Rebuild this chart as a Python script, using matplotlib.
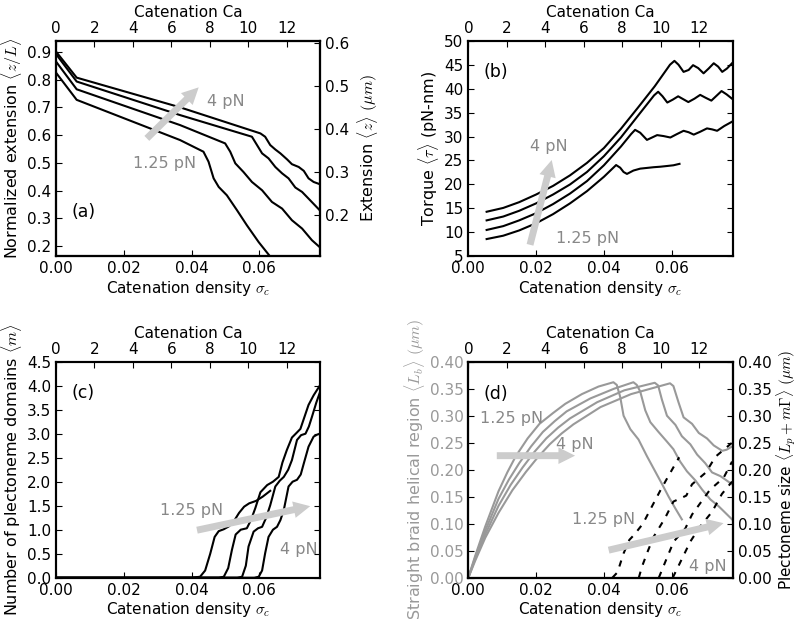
import numpy as np
import matplotlib
matplotlib.use('Agg')
import matplotlib.pyplot as plt
from matplotlib.ticker import FormatStrFormatter

# ---- data ----
# (a) normalized extension vs catenation density, 4 pN (top) ... 1.25 pN (bottom)
a_sig_4 = [0, 0.0061, 0.0366, 0.0603, 0.0617, 0.0632, 0.0647, 0.0662, 0.0682, 0.0696,
           0.0716, 0.0731, 0.0745, 0.076, 0.0778]
a_ext_4 = [0.901, 0.807, 0.700, 0.606, 0.594, 0.564, 0.548, 0.534, 0.512, 0.495,
           0.485, 0.471, 0.444, 0.431, 0.423]
a_sig_3 = [0, 0.0061, 0.0366, 0.0578, 0.0593, 0.0608, 0.0627, 0.0647, 0.0667, 0.0686,
           0.0706, 0.0726, 0.0745, 0.0778]
a_ext_3 = [0.892, 0.793, 0.672, 0.594, 0.564, 0.534, 0.516, 0.485, 0.462, 0.444,
           0.411, 0.395, 0.371, 0.329]
a_sig_2 = [0, 0.0061, 0.0366, 0.0499, 0.0514, 0.0529, 0.0553, 0.0578, 0.0608, 0.0637,
           0.0667, 0.0696, 0.0726, 0.0755, 0.0778]
a_ext_2 = [0.865, 0.765, 0.636, 0.570, 0.540, 0.498, 0.467, 0.431, 0.401, 0.359,
           0.335, 0.293, 0.263, 0.221, 0.196]
a_sig_1 = [0, 0.0061, 0.0366, 0.0435, 0.045, 0.0465, 0.048, 0.0504, 0.0534, 0.0563,
           0.0598, 0.063]
a_ext_1 = [0.825, 0.727, 0.582, 0.540, 0.504, 0.444, 0.413, 0.383, 0.329, 0.275,
           0.214, 0.165]

# (b) torque
b_sig_4 = [0.0054, 0.0103, 0.015, 0.02, 0.025, 0.03, 0.035, 0.04, 0.045, 0.05, 0.055,
           0.0595, 0.0608, 0.062, 0.0635, 0.065, 0.0663, 0.0678, 0.0694, 0.0709, 0.0724,
           0.0737, 0.0749, 0.0763, 0.0778]
b_tau_4 = [14.3, 15.1, 16.3, 17.9, 19.7, 21.9, 24.5, 27.6, 31.6, 36.0, 40.5,
           45.0, 45.8, 45.0, 43.5, 43.9, 44.9, 44.3, 43.2, 44.2, 45.3,
           44.6, 43.5, 44.2, 45.3]
b_sig_3 = [0.0054, 0.0103, 0.015, 0.02, 0.025, 0.03, 0.035, 0.04, 0.045, 0.05, 0.0548,
           0.056, 0.0573, 0.0587, 0.0603, 0.0619, 0.0634, 0.0649, 0.0667, 0.0684, 0.07,
           0.0717, 0.0732, 0.0747, 0.0762, 0.0778]
b_tau_3 = [12.5, 13.3, 14.5, 16.05, 17.9, 20.0, 22.6, 25.9, 29.8, 34.3, 38.6,
           39.35, 38.4, 37.1, 37.7, 38.4, 37.8, 37.2, 37.9, 38.7, 38.1,
           37.5, 38.5, 39.5, 38.8, 37.9]
b_sig_2 = [0.0054, 0.0103, 0.015, 0.02, 0.025, 0.03, 0.035, 0.04, 0.045, 0.048, 0.0492,
           0.0507, 0.0527, 0.0542, 0.0557, 0.0576, 0.0596, 0.0615, 0.0635, 0.065, 0.0665,
           0.0684, 0.0704, 0.0719, 0.0734, 0.0755, 0.0778]
b_tau_2 = [10.5, 11.3, 12.5, 14.0, 15.9, 18.1, 20.7, 24.0, 27.9, 30.5, 31.4,
           30.8, 29.3, 29.8, 30.3, 30.1, 29.8, 30.5, 31.2, 30.9, 30.4,
           31.0, 31.7, 31.5, 31.2, 32.2, 33.1]
b_sig_1 = [0.0054, 0.0103, 0.015, 0.02, 0.025, 0.03, 0.035, 0.04, 0.0425, 0.0436, 0.0448,
           0.0458, 0.0468, 0.0487, 0.0507, 0.0527, 0.0547, 0.0566, 0.0586, 0.0605, 0.0623]
b_tau_1 = [8.6, 9.3, 10.4, 11.9, 13.8, 16.05, 18.6, 21.6, 23.3, 24.05, 23.5,
           22.6, 22.2, 22.9, 23.3, 23.45, 23.6, 23.7, 23.85, 24.0, 24.3]

# (c) number of plectoneme domains
c_sig_1 = [0, 0.040, 0.0425, 0.044, 0.0455, 0.0468, 0.048, 0.0495, 0.051, 0.0525, 0.054,
           0.0555, 0.057, 0.059, 0.061, 0.0632]
c_m_1 = [0, 0, 0.02, 0.15, 0.50, 0.85, 0.97, 1.01, 1.07, 1.18, 1.35,
         1.48, 1.55, 1.60, 1.69, 1.81]
c_sig_2 = [0, 0.048, 0.0495, 0.0508, 0.0519, 0.053, 0.0545, 0.0563, 0.0575, 0.0588, 0.0603,
           0.0623, 0.064, 0.0657, 0.0668, 0.0681, 0.0696, 0.071, 0.0721, 0.0733, 0.0745,
           0.076, 0.0778]
c_m_2 = [0, 0, 0.02, 0.2, 0.58, 0.9, 1.0, 1.03, 1.2, 1.45, 1.78,
         1.93, 2.0, 2.1, 2.4, 2.66, 2.92, 3.02, 3.1, 3.35, 3.6,
         3.8, 4.0]
c_sig_3 = [0, 0.0535, 0.0549, 0.056, 0.0568, 0.0583, 0.0596, 0.0608, 0.062, 0.0632, 0.0647,
           0.066, 0.0672, 0.0685, 0.0696, 0.0711, 0.0723, 0.0736, 0.0746, 0.0755, 0.0768,
           0.0778]
c_m_3 = [0, 0, 0.02, 0.25, 0.65, 0.96, 1.03, 1.06, 1.25, 1.51, 1.9,
         2.02, 2.1, 2.25, 2.45, 2.87, 2.97, 3.0, 3.15, 3.35, 3.65,
         3.85]
c_sig_4 = [0, 0.0585, 0.0598, 0.0608, 0.0617, 0.0627, 0.064, 0.0652, 0.0662, 0.0672, 0.0686,
           0.0698, 0.0711, 0.0722, 0.0731, 0.0745, 0.076, 0.077, 0.0778]
c_m_4 = [0, 0, 0.02, 0.15, 0.51, 0.85, 1.0, 1.06, 1.2, 1.41, 1.9,
         2.0, 2.04, 2.15, 2.38, 2.73, 2.94, 2.98, 3.0]

# (d) straight braid region (grey) and plectoneme size (dashed)
d_sig_b1 = [0, 0.002, 0.005, 0.0089, 0.0115, 0.014, 0.0175, 0.021, 0.025, 0.0286, 0.0335,
            0.0384, 0.0428, 0.0438, 0.0448, 0.0458, 0.0478, 0.0502, 0.0527, 0.0552, 0.0571,
            0.0591, 0.0611, 0.063]
d_lb_1 = [0, 0.04, 0.095, 0.16, 0.195, 0.225, 0.258, 0.285, 0.305, 0.322, 0.34,
          0.354, 0.362, 0.357, 0.335, 0.30, 0.275, 0.256, 0.225, 0.196, 0.174,
          0.150, 0.128, 0.108]
d_sig_b2 = [0, 0.002, 0.005, 0.0089, 0.012, 0.015, 0.0185, 0.022, 0.0255, 0.029, 0.036,
            0.043, 0.0487, 0.0497, 0.0507, 0.0522, 0.0537, 0.0561, 0.0586, 0.0605, 0.0625,
            0.0645, 0.067, 0.069, 0.0714, 0.0739, 0.0778]
d_lb_2 = [0, 0.037, 0.087, 0.146, 0.182, 0.212, 0.243, 0.27, 0.29, 0.308, 0.332,
          0.35, 0.362, 0.357, 0.345, 0.31, 0.288, 0.27, 0.252, 0.238, 0.215,
          0.197, 0.18, 0.163, 0.145, 0.132, 0.108]
d_sig_b3 = [0, 0.002, 0.005, 0.0089, 0.0125, 0.016, 0.0195, 0.023, 0.0265, 0.030, 0.038,
            0.046, 0.055, 0.056, 0.0571, 0.0586, 0.0611, 0.063, 0.0655, 0.0675, 0.0699,
            0.0719, 0.0744, 0.0778]
d_lb_3 = [0, 0.034, 0.08, 0.133, 0.172, 0.204, 0.233, 0.258, 0.278, 0.295, 0.325,
          0.347, 0.361, 0.356, 0.33, 0.30, 0.283, 0.262, 0.247, 0.228, 0.212,
          0.195, 0.188, 0.173]
d_sig_b4 = [0, 0.002, 0.005, 0.0089, 0.013, 0.017, 0.0205, 0.024, 0.0275, 0.031, 0.039,
            0.048, 0.0595, 0.0605, 0.062, 0.0635, 0.066, 0.068, 0.0704, 0.0724, 0.0749,
            0.0762, 0.0778]
d_lb_4 = [0, 0.031, 0.074, 0.12, 0.162, 0.196, 0.223, 0.247, 0.267, 0.284, 0.316,
          0.34, 0.36, 0.355, 0.325, 0.297, 0.285, 0.268, 0.258, 0.245, 0.235,
          0.237, 0.243]

d_sig_p1 = [0.0425, 0.044, 0.0458, 0.0475, 0.049, 0.0515, 0.054, 0.0566, 0.059, 0.0622]
d_lp_1 = [0, 0.01, 0.045, 0.07, 0.08, 0.1, 0.13, 0.161, 0.188, 0.223]
d_sig_p2 = [0.0503, 0.0512, 0.053, 0.0547, 0.058, 0.0605, 0.0643, 0.066, 0.0701, 0.0729, 0.0778]
d_lp_2 = [0, 0.02, 0.05, 0.076, 0.11, 0.141, 0.152, 0.173, 0.195, 0.224, 0.25]
d_sig_p3 = [0.0562, 0.0588, 0.0606, 0.064, 0.066, 0.0713, 0.0753, 0.0778]
d_lp_3 = [0, 0.04, 0.067, 0.091, 0.117, 0.163, 0.185, 0.215]
d_sig_p4 = [0.0603, 0.0614, 0.0655, 0.0683, 0.0719, 0.0748, 0.0778]
d_lp_4 = [0, 0.014, 0.067, 0.094, 0.122, 0.155, 0.178]

XMAX = 0.078
CA_PER_SIGMA = 176.2
L_UM = 0.645          # contour length used for the right axis of (a)

TXT_GREY = '#888888'
LINE_GREY = '#999999'
ARROW_GREY = '#cccccc'

plt.rcParams.update({
    'font.family': 'DejaVu Sans',
    'font.size': 11,
    'axes.labelsize': 11.5,
    'mathtext.fontset': 'cm',
    'xtick.direction': 'in',
    'ytick.direction': 'in',
    'xtick.major.size': 4,
    'ytick.major.size': 4,
    'axes.linewidth': 1.5,
})

fig = plt.figure(figsize=(8, 6.23), dpi=100)
ax_a = fig.add_axes([0.07, 0.5886, 0.3305, 0.346])
ax_b = fig.add_axes([0.5854, 0.5886, 0.3305, 0.346])
ax_c = fig.add_axes([0.07, 0.0727, 0.3305, 0.3467])
ax_d = fig.add_axes([0.5854, 0.0727, 0.3305, 0.3467])


def common(ax):
    ax.set_xlim(0, XMAX)
    ax.set_xticks([0, 0.02, 0.04, 0.06])
    ax.xaxis.set_major_formatter(FormatStrFormatter('%.2f'))
    ax.set_xlabel(r'Catenation density $\sigma_c$', labelpad=2, fontsize=11)
    top = ax.twiny()
    top.set_xlim(0, XMAX * CA_PER_SIGMA)
    top.set_xticks(range(0, 13, 2))
    top.set_xlabel('Catenation Ca', labelpad=3, fontsize=11)
    return top


def arrow(ax, tail, head):
    ax.annotate('', xy=head, xytext=tail,
                arrowprops=dict(arrowstyle='simple,head_width=1.2,head_length=1.2,tail_width=0.5',
                                mutation_scale=10, fc=ARROW_GREY, ec='none',
                                shrinkA=0, shrinkB=0))


# ---- (a) ----
for s, v in [(a_sig_4, a_ext_4), (a_sig_3, a_ext_3), (a_sig_2, a_ext_2), (a_sig_1, a_ext_1)]:
    ax_a.plot(s, v, color='black', lw=1.5)
ax_a.set_ylim(0.163, 0.94)
ax_a.set_yticks(np.arange(0.2, 0.95, 0.1))
ax_a.yaxis.set_major_formatter(FormatStrFormatter('%.1f'))
ax_a.set_ylabel(r'Normalized extension $\langle z/L\rangle$', labelpad=2)
common(ax_a)
ra = ax_a.twinx()
ra.set_ylim(0.163 * L_UM, 0.94 * L_UM)
ra.set_yticks([0.2, 0.3, 0.4, 0.5, 0.6])
ra.set_ylabel(r'Extension $\langle z\rangle$ $(\mu m)$', labelpad=4)
arrow(ax_a, (0.0268, 0.588), (0.0421, 0.772))
ax_a.text(0.0446, 0.72, '4 pN', color=TXT_GREY, fontsize=11.5, va='center')
ax_a.text(0.0228, 0.498, '1.25 pN', color=TXT_GREY, fontsize=11.5, va='center')
ax_a.text(0.0047, 0.323, '(a)', fontsize=12.5, va='center')

# ---- (b) ----
for s, v in [(b_sig_4, b_tau_4), (b_sig_3, b_tau_3), (b_sig_2, b_tau_2), (b_sig_1, b_tau_1)]:
    ax_b.plot(s, v, color='black', lw=1.5)
ax_b.set_ylim(5, 50)
ax_b.set_yticks(range(5, 51, 5))
ax_b.yaxis.set_ticks_position('both')
ax_b.set_ylabel(r'Torque $\langle\tau\rangle$ (pN-nm)', labelpad=2)
common(ax_b)
arrow(ax_b, (0.0182, 7.4), (0.0246, 25.1))
ax_b.text(0.0182, 27.9, '4 pN', color=TXT_GREY, fontsize=11.5, va='center')
ax_b.text(0.0258, 8.75, '1.25 pN', color=TXT_GREY, fontsize=11.5, va='center')
ax_b.text(0.0044, 43.5, '(b)', fontsize=12.5, va='center')

# ---- (c) ----
for s, v in [(c_sig_1, c_m_1), (c_sig_2, c_m_2), (c_sig_3, c_m_3), (c_sig_4, c_m_4)]:
    ax_c.plot(s, v, color='black', lw=1.5)
ax_c.set_ylim(0, 4.5)
ax_c.set_yticks(np.arange(0, 4.51, 0.5))
ax_c.yaxis.set_major_formatter(FormatStrFormatter('%.1f'))
ax_c.yaxis.set_ticks_position('both')
ax_c.set_ylabel(r'Number of plectoneme domains $\langle m\rangle$', labelpad=2)
common(ax_c)
arrow(ax_c, (0.0416, 0.99), (0.075, 1.49))
ax_c.text(0.0307, 1.41, '1.25 pN', color=TXT_GREY, fontsize=11.5, va='center')
ax_c.text(0.066, 0.59, '4 pN', color=TXT_GREY, fontsize=11.5, va='center')
ax_c.text(0.0047, 3.84, '(c)', fontsize=12.5, va='center')

# ---- (d) ----
for s, v in [(d_sig_b1, d_lb_1), (d_sig_b2, d_lb_2), (d_sig_b3, d_lb_3), (d_sig_b4, d_lb_4)]:
    ax_d.plot(s, v, color=LINE_GREY, lw=1.5)
for s, v in [(d_sig_p1, d_lp_1), (d_sig_p2, d_lp_2), (d_sig_p3, d_lp_3), (d_sig_p4, d_lp_4)]:
    ax_d.plot(s, v, color='black', lw=1.5, linestyle=(0, (3, 3.5)))
ax_d.set_ylim(0, 0.4)
ax_d.set_yticks(np.arange(0, 0.41, 0.05))
ax_d.yaxis.set_major_formatter(FormatStrFormatter('%.2f'))
ax_d.tick_params(axis='y', labelcolor=LINE_GREY)
ax_d.set_ylabel(r'Straight braid helical region $\langle L_b\rangle$ $(\mu m)$',
                color=LINE_GREY, labelpad=2)
common(ax_d)
rd = ax_d.twinx()
rd.set_ylim(0, 0.4)
rd.set_yticks(np.arange(0, 0.41, 0.05))
rd.yaxis.set_major_formatter(FormatStrFormatter('%.2f'))
rd.set_ylabel(r'Plectoneme size $\langle L_p + m\Gamma\rangle$ $(\mu m)$', labelpad=2,
              fontsize=11)
arrow(ax_d, (0.0084, 0.226), (0.0315, 0.226))
arrow(ax_d, (0.0414, 0.051), (0.0753, 0.101))
ax_d.text(0.0035, 0.295, '1.25 pN', color=TXT_GREY, fontsize=11.5, va='center')
ax_d.text(0.026, 0.247, '4 pN', color=TXT_GREY, fontsize=11.5, va='center')
ax_d.text(0.0305, 0.107, '1.25 pN', color=TXT_GREY, fontsize=11.5, va='center')
ax_d.text(0.065, 0.02, '4 pN', color=TXT_GREY, fontsize=11.5, va='center')
ax_d.text(0.0044, 0.341, '(d)', fontsize=12.5, va='center')

fig.savefig('out.png', dpi=100)
